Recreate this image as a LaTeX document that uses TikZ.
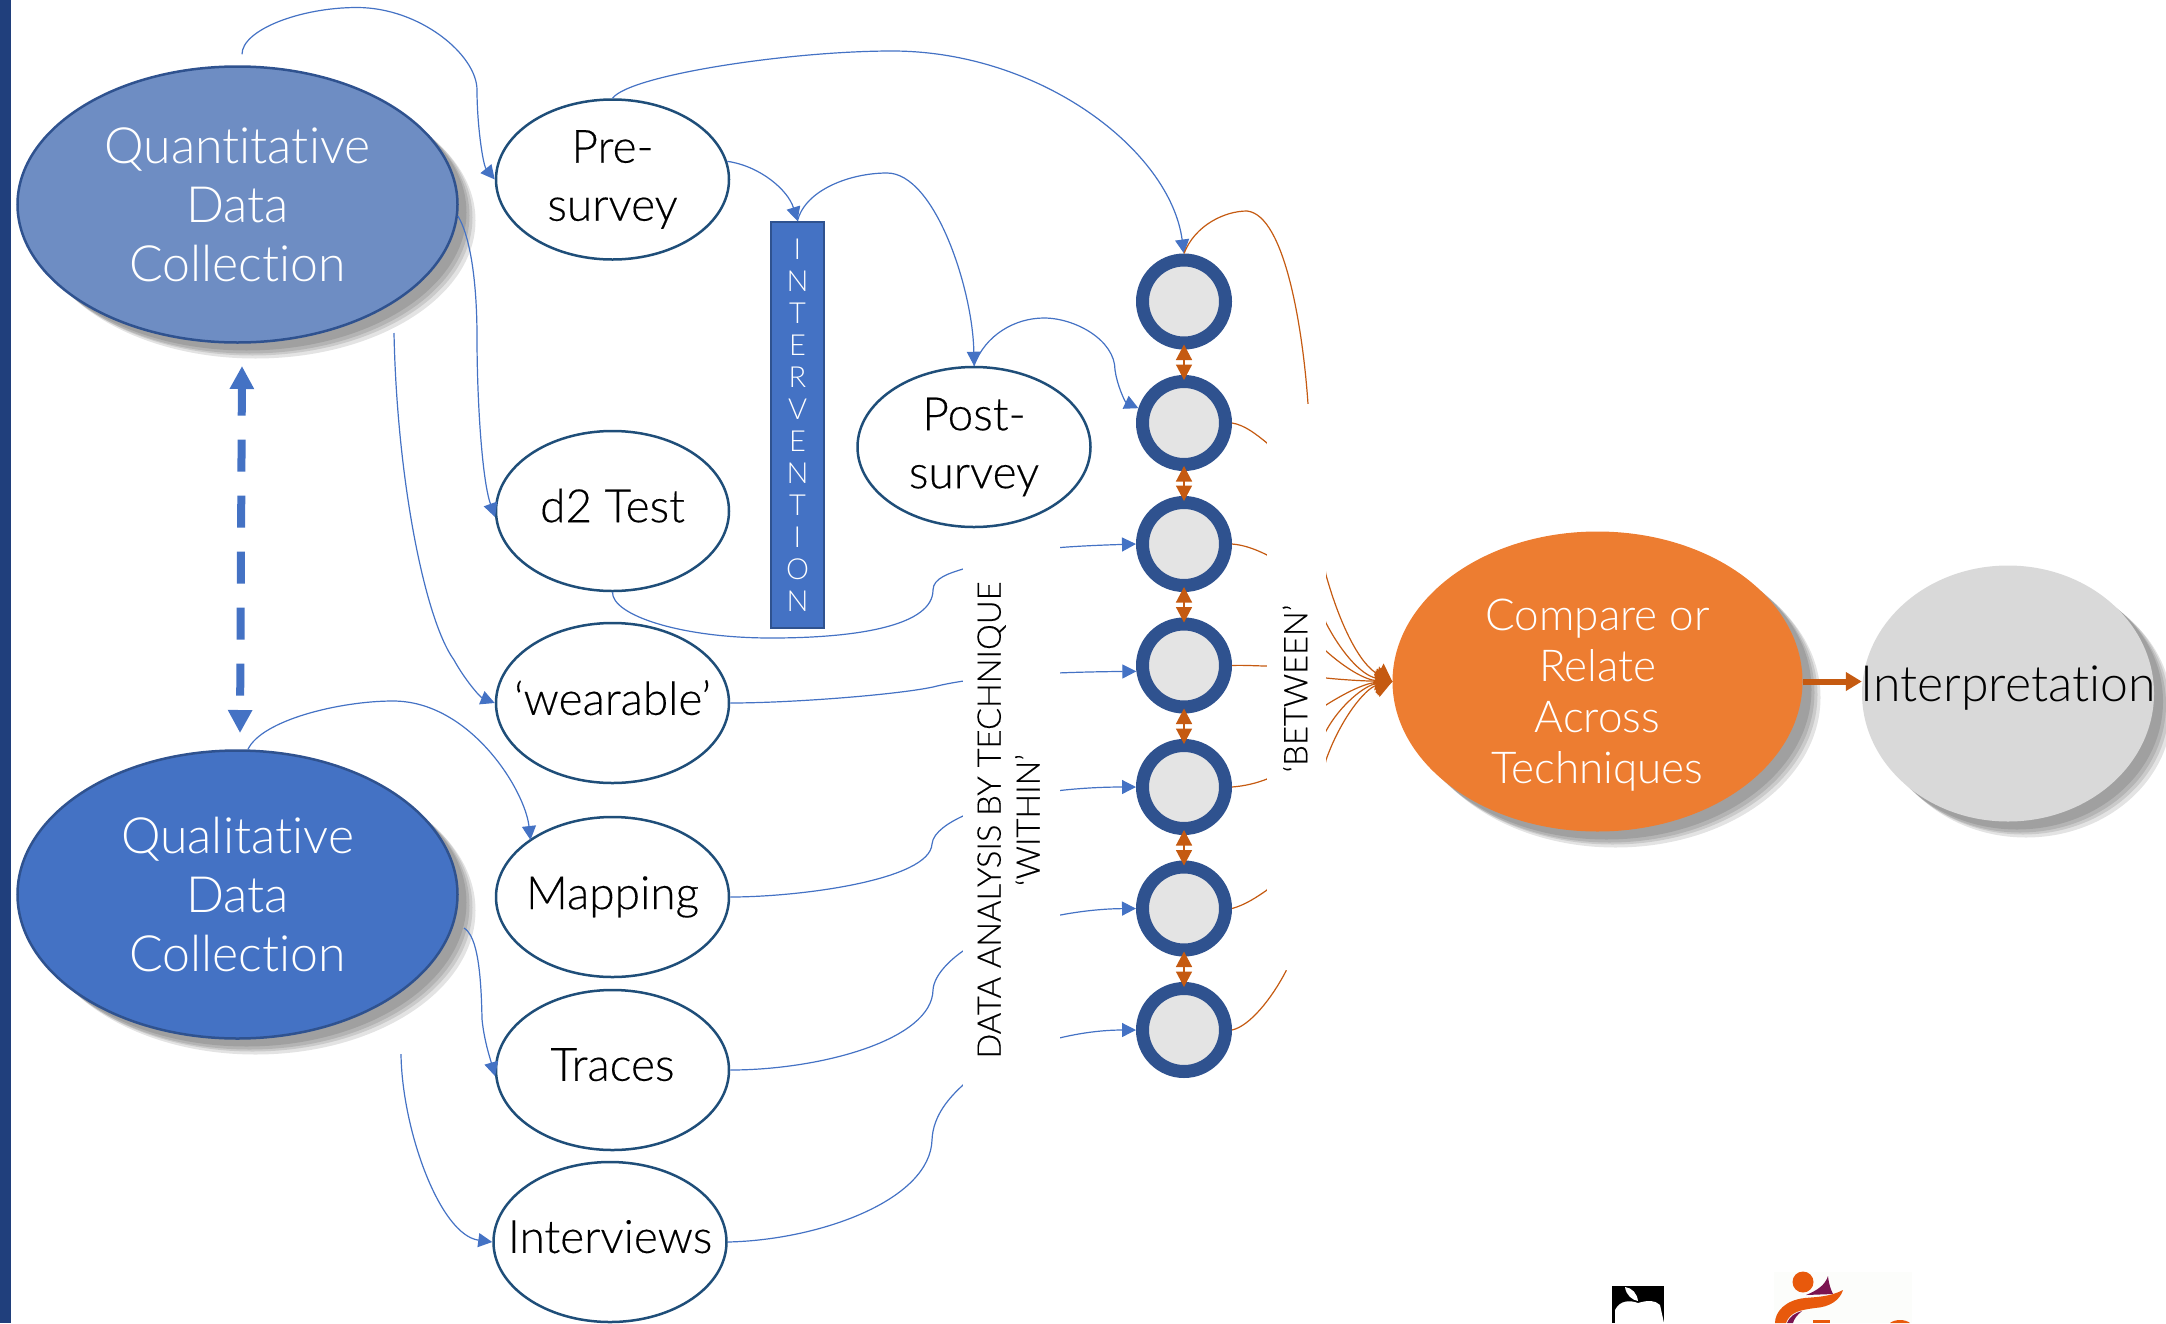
\documentclass[tikz,border=0pt]{standalone}
\usepackage{fontspec}
\setmainfont[Ligatures=NoCommon]{Lato Light}
\newfontfamily\regfont[Ligatures=NoCommon,FakeBold=0.3]{Lato Light}
\usepackage{tikz}
\usetikzlibrary{arrows.meta}
\usetikzlibrary{shapes.geometric}
\usetikzlibrary{shadows}
\definecolor{linkblue}{HTML}{4472C4}
\definecolor{rimblue}{HTML}{2F528F}
\definecolor{rimsmall}{HTML}{1F4E79}
\definecolor{quantblue}{HTML}{6E8DC3}
\definecolor{barblue}{HTML}{203F7C}
\definecolor{linkorange}{HTML}{C55A11}
\definecolor{compareorange}{HTML}{ED7D31}
\definecolor{interpgrey}{HTML}{D9D9D9}
\definecolor{roundgrey}{HTML}{E4E4E4}
\definecolor{logoorange}{HTML}{E8590C}
\definecolor{logopurple}{HTML}{7B1450}
\definecolor{logopaper}{HTML}{FCFDFB}
\begin{document}
\begin{tikzpicture}[x=1pt,y=-1pt,
    softshadow/.style={
      drop shadow={shadow xshift=9pt,shadow yshift=-8pt,fill=black,opacity=.11},
      drop shadow={shadow xshift=12pt,shadow yshift=-11pt,fill=black,opacity=.11},
      drop shadow={shadow xshift=15pt,shadow yshift=-13pt,fill=black,opacity=.11},
      drop shadow={shadow xshift=18pt,shadow yshift=-16pt,fill=black,opacity=.11}},
    bigoval/.style={ellipse,inner sep=-60pt,align=center,text=white,
      font=\fontsize{50}{59}\selectfont},
    nodrop/.style={text depth=11pt},
    bluelink/.style={draw=linkblue,line width=1.2pt,-{Triangle[length=14pt,width=14pt]}},
    orangelink/.style={draw=linkorange,line width=1.2pt},
    tolink/.style={orangelink,-{Triangle[length=16pt,width=24pt]}}]
  \useasboundingbox (0,0) rectangle (2166,1323);
  \fill[barblue] (0,0) rectangle (11,1323);

  \begin{scope}[every node/.style={bigoval,softshadow,draw=rimblue,line width=2.5pt,
      minimum width=440pt}]
    \node[fill=quantblue,minimum height=276pt] (quant) at (237.5,204.5) {Quantitative\\Data\\Collection};
    \node[fill=linkblue,minimum height=288pt] (qual) at (237.5,894.5) {Qualitative\\Data\\Collection};
  \end{scope}
  \begin{scope}[every node/.style={ellipse,inner sep=-60pt,draw=rimsmall,line width=2.5pt,fill=white,
      minimum width=233pt,minimum height=160pt,align=center,
      font=\regfont\fontsize{46}{58}\selectfont}]
    \node (pre) at (612.5,179.5) {Pre-\\survey};
    \node (post) at (974,447) {Post-\\survey};
    \node[nodrop] (dtwo) at (612.5,511) {d2 Test};
    \node[nodrop] (wear) at (612.5,703) {‘wearable’};
    \node (map) at (612.5,897) {Mapping};
    \node[nodrop] (trace) at (612.5,1070) {Traces};
    \node[nodrop] (inter) at (610,1242) {Interviews};
  \end{scope}
  \node[draw=rimblue,line width=2pt,fill=linkblue,text=white,minimum width=53pt,minimum height=406pt,
    inner sep=0pt,align=center,font=\fontsize{29}{32}\selectfont] (act) at (797.5,425)
    {I\\N\\T\\E\\R\\V\\E\\N\\T\\I\\O\\N};
  \node[bigoval,softshadow,fill=compareorange,minimum width=410pt,minimum height=300pt,
    font=\fontsize{44}{51}\selectfont] (comp) at (1597.5,681.5)
    {\rule{0pt}{58pt}Compare or\\Relate\\Across\\Techniques};
  \node[bigoval,softshadow,fill=interpgrey,minimum width=292pt,minimum height=256pt,text=black,
    font=\fontsize{50}{59}\selectfont,text depth=20pt] (interp) at (2008,693.5) {Interpretation};

  \begin{scope}[every node/.style={circle,draw=rimblue,line width=13pt,fill=roundgrey,
      minimum size=83pt,inner sep=0pt}]
    \node (c1) at (1184,301.5) {};
    \node (c2) at (1184,423) {};
    \node (c3) at (1184,544) {};
    \node (c4) at (1184,665.5) {};
    \node (c5) at (1184,787) {};
    \node (c6) at (1184,908.5) {};
    \node (c7) at (1184,1030) {};
  \end{scope}

  % links into the survey ovals and tests
  \begin{scope}[every path/.style={bluelink}]
    \draw[shorten <=11pt] (quant.north -| 242,0) .. controls (242,30) and (300,7.5) .. (357,7.5)
      .. controls (420,7.5) and (477,55) .. (477,90) .. controls (477,125) and (483,165) .. (pre.west);
    \draw (quant.-3.5) .. controls (472,240) and (477,290) .. (477,337)
      .. controls (477,400) and (482,480) .. (dtwo.183);
    \coordinate (quantfoot) at (394,333);
    \draw (quantfoot) .. controls (397,480) and (425,620) .. (454,660)
      .. controls (465,680) and (480,697) .. (wear.west);
    \draw (qual.north -| 248,0) .. controls (262,720) and (340,701) .. (393,701)
      .. controls (470,701) and (525,790) .. (530.5,840);
    \coordinate (qualside) at (464,928);
    \draw (qualside) .. controls (475,935) and (481,960) .. (482,1019)
      .. controls (484,1040) and (490,1058) .. (trace.183);
    \coordinate (qualfoot) at (401,1054);
    \draw (qualfoot) .. controls (402,1130) and (440,1235) .. (inter.west);
    \draw (pre.9) .. controls (760,166) and (788,190) .. (act.north);
    \draw (act.north) .. controls (805,190) and (850,173) .. (887,173)
      .. controls (935,173) and (973,290) .. (post.north);
    \draw (post.north) .. controls (985,335) and (1015,318) .. (1044,318)
      .. controls (1075,318) and (1115,340) .. (1115,370) .. controls (1117,385) and (1125,402) .. (c2.162);
    \draw (pre.north) .. controls (630,75) and (790,51) .. (892,51)
      .. controls (1040,51) and (1170,150) .. (c1.north);
    \draw (dtwo.south) .. controls (612,615) and (680,638) .. (771,638)
      .. controls (860,638) and (933,625) .. (933,590) .. controls (933,578) and (950,573) .. (963,569)
      .. controls (1000,552) and (1040,547) .. (c3.west);
    \draw (wear.east) .. controls (790,703) and (895,695) .. (933,687)
      .. controls (980,675) and (1060,672) .. (c4.187);
    \draw (map.east) .. controls (800,897) and (930,880) .. (932,844)
      .. controls (933,832) and (950,822) .. (963,816) .. controls (1000,795) and (1070,787) .. (c5.west);
    \draw (trace.east) .. controls (820,1070) and (932,1040) .. (933,990)
      .. controls (934,975) and (950,960) .. (963,951) .. controls (1000,925) and (1070,909) .. (c6.west);
    \draw (inter.east) .. controls (820,1240) and (930,1200) .. (932,1140)
      .. controls (933,1115) and (950,1097) .. (963,1085) .. controls (1000,1050) and (1070,1030) .. (c7.west);
  \end{scope}

  % links to the compare oval
  \begin{scope}[every path/.style={tolink}]
    \draw (c1.north) .. controls (1195,225) and (1225,211) .. (1247,211)
      .. controls (1285,215) and (1303,330) .. (1308,404) .. controls (1312,470) and (1320,540) .. (1326,575)
      .. controls (1340,625) and (1360,665) .. (comp.west);
    \draw (c2.east) .. controls (1245,425) and (1257,435) .. (1267,443) .. controls (1295,500) and (1310,580) .. (1326,623)
      .. controls (1340,650) and (1360,675) .. (comp.west);
    \draw (c3.east) .. controls (1245,545) and (1257,550) .. (1267,555) .. controls (1290,590) and (1310,635) .. (1326,651)
      .. controls (1345,668) and (1365,680) .. (comp.west);
    \draw (c4.east) .. controls (1245,665) and (1257,666) .. (1267,666) .. controls (1290,672) and (1310,677) .. (1326,678)
      .. controls (1345,680) and (1365,681) .. (comp.west);
    \draw (c5.east) .. controls (1245,786) and (1257,783) .. (1267,779) .. controls (1290,750) and (1310,718) .. (1326,705)
      .. controls (1345,693) and (1365,683) .. (comp.west);
    \draw (c6.east) .. controls (1245,905) and (1257,897) .. (1267,890) .. controls (1290,840) and (1310,765) .. (1326,731)
      .. controls (1340,705) and (1365,685) .. (comp.west);
    \draw (c7.east) .. controls (1250,1026) and (1272,998) .. (1286,971) .. controls (1300,900) and (1315,810) .. (1326,760)
      .. controls (1340,720) and (1365,688) .. (comp.west);
  \end{scope}
  \draw[linkorange,line width=6pt,-{Triangle[length=16pt,width=18pt]}] (comp.east) -- (comp.east -| interp.west);

  % white text boxes that lie over the links
  \begin{scope}[every node/.style={fill=white,rotate=90,inner sep=0pt,align=center,
      font=\regfont\fontsize{32.7}{39}\selectfont}]
    \node[minimum width=560pt,minimum height=97pt] (within) at (1011.5,820)
      {DATA ANALYSIS BY TECHNIQUE\\\rule[-6pt]{0pt}{0pt}‘WITHIN’};
    \node[minimum width=566pt,minimum height=59pt] (between) at (1296.5,687) {\rule[-3pt]{0pt}{0pt}‘BETWEEN’\rule{3pt}{0pt}};
  \end{scope}

  \begin{scope}[every path/.style={draw=linkorange,line width=1.5pt,
      {Triangle[length=15.5pt,width=16pt]}-{Triangle[length=15.5pt,width=16pt]},shorten <=-5pt,shorten >=-5pt}]
    \draw (c1) -- (c2);
    \draw (c2) -- (c3);
    \draw (c3) -- (c4);
    \draw (c4) -- (c5);
    \draw (c5) -- (c6);
    \draw (c6) -- (c7);
  \end{scope}
  \coordinate (dashtop) at (242,366);
  \coordinate (dashbot) at (240,733);
  \draw[linkblue,line width=8pt,dash pattern=on 32pt off 24pt,dash phase=4pt,
    {Triangle[length=23pt,width=23pt]}-{Triangle[length=23pt,width=23pt]}] (dashtop) -- (dashbot);

  % the two logos cut off by the lower edge
  \fill[black] (1612,1286) rectangle (1664,1323);
  \fill[white] (1615,1323) -- (1615,1310) .. controls (1620,1300) and (1630,1300) .. (1638,1303)
    .. controls (1648,1300) and (1655,1300) .. (1660,1305) -- (1664,1323) -- cycle;
  \fill[white] (1625,1287) .. controls (1626,1295) and (1632,1300) .. (1638,1301)
    .. controls (1637,1293) and (1632,1288) .. (1625,1287) -- cycle;
  \fill[logopaper] (1774,1272) rectangle (1912,1323);
  \fill[logoorange] (1803,1282) circle (10.5);
  \fill[logopurple] (1806,1295) .. controls (1818,1290) and (1825,1285) .. (1828,1276)
    .. controls (1829,1285) and (1831,1290) .. (1833,1294) -- cycle;
  \fill[logoorange] (1843,1290) .. controls (1830,1297) and (1815,1297) .. (1805,1298)
    .. controls (1785,1300) and (1775,1312) .. (1775,1323) -- (1786,1323)
    .. controls (1790,1312) and (1800,1310) .. (1815,1308) .. controls (1830,1307) and (1840,1300) .. (1843,1290) -- cycle;
  \fill[logopurple] (1787,1323) .. controls (1790,1316) and (1795,1313) .. (1802,1311)
    .. controls (1797,1315) and (1794,1319) .. (1793,1323) -- cycle;
  \fill[logoorange] (1813,1320) rectangle (1830,1323);
  \fill[logoorange] (1890,1323) .. controls (1895,1319) and (1905,1319) .. (1910,1323) -- cycle;
\end{tikzpicture}
\end{document}
